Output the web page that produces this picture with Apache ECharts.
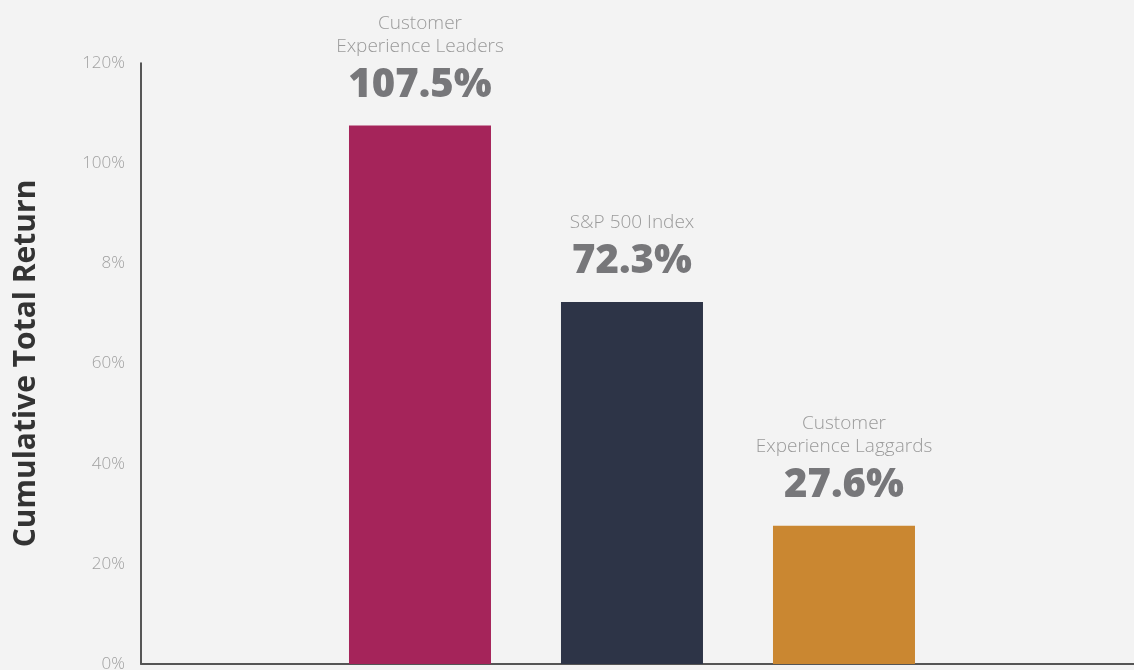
<!DOCTYPE html>
<html>
<head>
<meta charset="utf-8">
<script src="https://cdn.jsdelivr.net/npm/echarts@6/dist/echarts.min.js"></script>
<style>
html,body{margin:0;padding:0;background:#f3f3f3;}
#chart{width:1134px;height:670px;}
</style>
</head>
<body>
<div id="chart"></div>
<script>
const categories = ['Customer\nExperience Leaders', 'S&P 500 Index', 'Customer\nExperience Laggards'];
const values = [107.5, 72.3, 27.6];
const valueLabels = ['107.5%', '72.3%', '27.6%'];
const barColors = ['#a5245a', '#2d3447', '#ca8731'];
const yTickLabels = ['0%', '20%', '40%', '60%', '8%', '100%', '120%'];
const yTitle = 'Cumulative Total Return';

const FONT = '"Open Sans", sans-serif';
const chart = echarts.init(document.getElementById('chart'));

const data = values.map((v, i) => ({
  value: [i + 1, v],
  itemStyle: { color: barColors[i] },
  label: {
    formatter: categories[i].split('\n').map(s => '{n|' + s + '}').join('\n') + '\n{v|' + valueLabels[i] + '}'
  }
}));

chart.setOption({
  backgroundColor: '#f3f3f3',
  animation: false,
  grid: { left: 141, right: 0, top: 63, bottom: 6, containLabel: false, outerBoundsMode: 'none' },
  xAxis: {
    type: 'value', min: -0.316, max: 4.368,
    axisLine: { show: true, onZero: false, lineStyle: { color: '#555', width: 2 } },
    axisTick: { show: false }, axisLabel: { show: false }, splitLine: { show: false }
  },
  yAxis: {
    type: 'value', min: 0, max: 120, interval: 20,
    name: yTitle, nameLocation: 'middle', nameGap: 100, nameRotate: 90,
    nameTextStyle: { fontFamily: FONT, fontWeight: 'bold', fontSize: 30, color: '#333' },
    axisLine: { show: true, onZero: false, lineStyle: { color: '#222', width: 1.5 } },
    axisTick: { show: false },
    splitLine: { show: false },
    axisLabel: {
      margin: 16, fontFamily: FONT, fontWeight: 300, fontSize: 17, color: '#a0a0a0',
      lineHeight: 20, padding: [6, 0, 0, 0],
      formatter: v => yTickLabels[Math.round(v / 20)]
    }
  },
  series: [{
    type: 'bar',
    barWidth: 142,
    data: data,
    label: {
      show: true, position: 'top', distance: 12, align: 'center',
      rich: {
        n: { fontFamily: FONT, fontWeight: 300, fontSize: 19, color: '#9a9a9a', lineHeight: 23, align: 'center' },
        v: { fontFamily: FONT, fontWeight: 800, fontSize: 40, color: '#77777a', lineHeight: 56, align: 'center' }
      }
    }
  }]
});
</script>
</body>
</html>
